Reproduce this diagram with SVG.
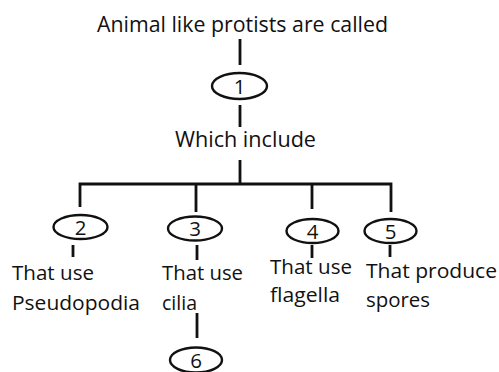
<svg xmlns="http://www.w3.org/2000/svg" width="499" height="372" viewBox="0 0 499 372">
<style>
text{font-family:"Open Sans","Noto Sans","Liberation Sans",sans-serif;fill:#111111}
.lbl{font-size:20px}
.num{font-size:20.5px;text-anchor:middle}
.line{stroke:#111111;stroke-width:2.8;fill:none}
ellipse{fill:none;stroke:#111111;stroke-width:2.4}
</style>
<rect width="499" height="372" fill="#ffffff"/>
<g id="connectors">
<path class="line" d="M240 39V65M240 105V127M240 160V184M80 184H391M80 182.6V207M196 182.6V212M312 182.6V209M391 182.6V212M73 245V257M197 245V260M312 245V258M390 245V257M197 313V338"/>
</g>
<g id="title"><text class="lbl" x="97" y="32" textLength="291" lengthAdjust="spacingAndGlyphs" style="font-size:21.5px">Animal like protists are called</text></g>
<g id="n1"><ellipse cx="239.5" cy="86" rx="27.5" ry="13"/><text class="num" x="239.5" y="93.5">1</text></g>
<g id="which"><text class="lbl" x="175" y="147" textLength="141" lengthAdjust="spacingAndGlyphs" style="font-size:21px">Which include</text></g>
<g id="n2"><ellipse cx="80.5" cy="227" rx="27" ry="12"/><text class="num" x="80.5" y="234.5">2</text></g>
<g id="n3"><ellipse cx="195" cy="228.5" rx="27" ry="12"/><text class="num" x="195" y="236">3</text></g>
<g id="n4"><ellipse cx="312.5" cy="231" rx="26" ry="12"/><text class="num" x="312.5" y="238.5">4</text></g>
<g id="n5"><ellipse cx="390.5" cy="231" rx="26" ry="12"/><text class="num" x="390.5" y="238.5">5</text></g>
<g id="t2"><text class="lbl" x="12" y="280" textLength="82" lengthAdjust="spacingAndGlyphs">That use</text><text class="lbl" x="12" y="310" textLength="128" lengthAdjust="spacingAndGlyphs">Pseudopodia</text></g>
<g id="t3"><text class="lbl" x="162" y="280" textLength="81" lengthAdjust="spacingAndGlyphs">That use</text><text class="lbl" x="162" y="310" textLength="35" lengthAdjust="spacingAndGlyphs">cilia</text></g>
<g id="t4"><text class="lbl" x="270" y="274" textLength="82" lengthAdjust="spacingAndGlyphs">That use</text><text class="lbl" x="270" y="302" textLength="70" lengthAdjust="spacingAndGlyphs">flagella</text></g>
<g id="t5"><text class="lbl" x="366" y="278" textLength="131" lengthAdjust="spacingAndGlyphs">That produce</text><text class="lbl" x="366" y="307" textLength="64" lengthAdjust="spacingAndGlyphs">spores</text></g>
<g id="n6"><ellipse cx="196" cy="360" rx="26" ry="12.5"/><text class="num" x="196" y="367.5">6</text></g>
</svg>
